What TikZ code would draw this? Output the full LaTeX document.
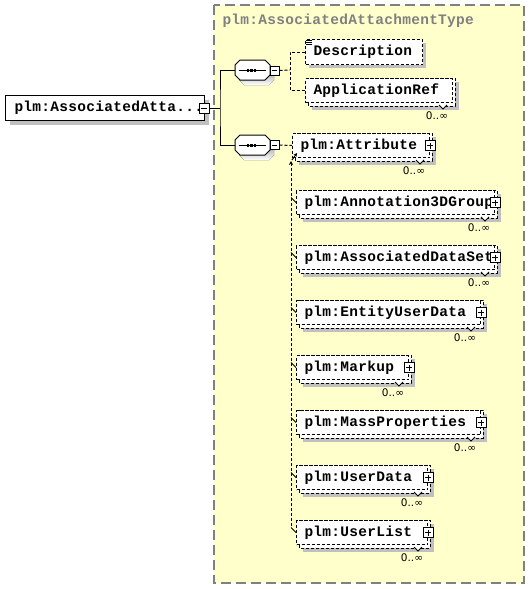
\documentclass[tikz,border=0pt]{standalone}
\usepackage{fontspec}
\newfontfamily\xsdmono{Liberation Mono}[LetterSpace=2]
\newfontfamily\xsdsans{DejaVu Sans}
\usetikzlibrary{arrows.meta}
\definecolor{typebg}{RGB}{255,255,204}
\definecolor{typeline}{RGB}{128,128,128}
\definecolor{shade}{RGB}{192,192,192}
\begin{document}
\begin{tikzpicture}[x=1pt,y=-1pt,line width=1pt,line join=miter,
	font=\xsdmono\bfseries\fontsize{14.5}{14.5}\selectfont,
	dashline/.style={dash pattern=on 3pt off 2pt},
	shadowfill/.style={fill=shade,draw=none},
	elem/.style={draw,fill=white,dashline,anchor=north west,minimum height=24pt,inner ysep=0pt,inner xsep=8pt,align=left},
	signbox/.style={draw,solid,fill=white,minimum size=10pt,inner sep=0pt},
	plusbox/.style={signbox,path picture={
		\draw[line width=.8pt] ([xshift=2pt]path picture bounding box.west)--([xshift=-2pt]path picture bounding box.east);
		\draw[line width=.8pt] ([yshift=-2pt]path picture bounding box.north)--([yshift=2pt]path picture bounding box.south);}},
	minusbox/.style={signbox,minimum size=9pt,path picture={
		\draw[line width=.8pt] ([xshift=2pt]path picture bounding box.west)--([xshift=-2pt]path picture bounding box.east);}},
	seqbox/.style={minimum width=35pt,minimum height=20pt,inner sep=0pt},
	card/.style={font=\xsdsans\fontsize{10.5}{11}\selectfont,inner sep=0pt}]
\useasboundingbox (0,0) rectangle (530,589);
% complex type frame
\draw[typeline,fill=typebg,line width=1.2pt,dash pattern=on 10pt off 5pt] (214,5) rectangle (524,583);
\node[anchor=west,text=typeline,inner sep=0pt] (title) at (222,21) {plm:AssociatedAttachmentType};
% root element
\fill[shadowfill] (10,100) rectangle (209,125);
\node[draw,fill=white,anchor=north west,minimum height=25pt,text width=181pt,inner xsep=9pt,inner ysep=0pt,align=left] (root) at (5,95) {plm:AssociatedAtta...};
\node[minusbox,minimum size=10pt] (mroot) at (204,108) {};
% sequences
\foreach \s/\y in {seqA/70,seqB/145}{
	\fill[shade] (239,\y) ++(0,0) -- ++(5,-5) -- ++(25,0) -- ++(5,5) -- ++(0,10) -- ++(-5,5) -- ++(-25,0) -- ++(-5,-5) -- cycle;
	\draw[fill=white] (235,\y-5) -- (240,\y-10) -- (265,\y-10) -- (270,\y-5) -- (270,\y+5) -- (265,\y+10) -- (240,\y+10) -- (235,\y+5) -- cycle;
	\node[seqbox] (\s) at (252.5,\y) {};
	\draw[line width=.9pt] (239,\y)--(266,\y);
	\foreach \dx in {246.5,250,253.5}
	\fill (\dx,\y-1.5) rectangle (\dx+2.5,\y+1.5);
}
\node[minusbox] (mA) at (274.5,70.5) {};
\node[minusbox] (mB) at (274.5,145) {};
\coordinate (fork) at (220,108);
\draw (mroot.east)--(fork);
\draw (seqA.west) -| (fork) |- (seqB.west);
% first sequence
\fill[shadowfill] (309,43) rectangle (426,68);
\node[elem,text width=101pt,minimum height=25pt] (desc) at (305,39) {\mbox{Description}};
\foreach \yy in {40.5,42.5,44.5}
\draw[solid,line width=.7pt] (306,\yy)--(312,\yy);
% repeated elements
\foreach \nm/\txt/\l/\t/\r/\pl in {aref/ApplicationRef/305/78/452/0,
	att/plm:Attribute/292/133/429/1,
	ann/plm:Annotation3DGroup/296/190/494/1,
	ads/plm:AssociatedDataSet/296/245/494/1,
	eud/plm:EntityUserData/296/300/480/1,
	mkp/plm:Markup/296/355/408/1,
	mass/plm:MassProperties/296/410/480/1,
	ud/plm:UserData/296/465/427/1,
	ul/plm:UserList/296/520/427/1}{
	\pgfmathsetmacro\b{\t+24}
	\pgfmathsetmacro\w{\r-\l-16}
	\fill[shadowfill] (\l+7,\t+4) rectangle (\r+7,\b+8);
	\draw[fill=white,dashline] (\l+3,\t) rectangle (\r+3,\b+4);
	\node[elem,text width=\w pt] (\nm) at (\l,\t) {\mbox{\txt}};
	\ifnum\pl=1 \node[plusbox] (p\nm) at (\nm.east) {}; \fi
	\draw[fill=white,line width=.8pt] (\r-13,\b+3)--(\r-9,\b+7)--(\r-5,\b+3);
	\node[card] (c\nm) at (\r-15,\b+14) {0..∞};
}
\coordinate (forkA) at (290,70);
\draw[dashline] (mA.east)--(forkA);
\draw[dashline] (desc.west) -| (forkA) |- (aref.west);
% second sequence
\draw[dashline] (mB.east)--(att.west);
\coordinate (vtop) at (291,161);
\coordinate (vbot) at (291,527);
\draw[dashline,{Stealth[length=4pt,width=4pt]}-] (vtop)--(vbot);
\draw[-{Stealth[length=3.5pt,width=3.5pt]}] (292,160)--([shift={(5,-5)}]att.south west);
\foreach \nm in {ann,ads,eud,mkp,mass,ud,ul}
\draw[line width=.8pt] ([shift={(-5,-5)}]\nm.west)--(\nm.west);
\end{tikzpicture}
\end{document}
